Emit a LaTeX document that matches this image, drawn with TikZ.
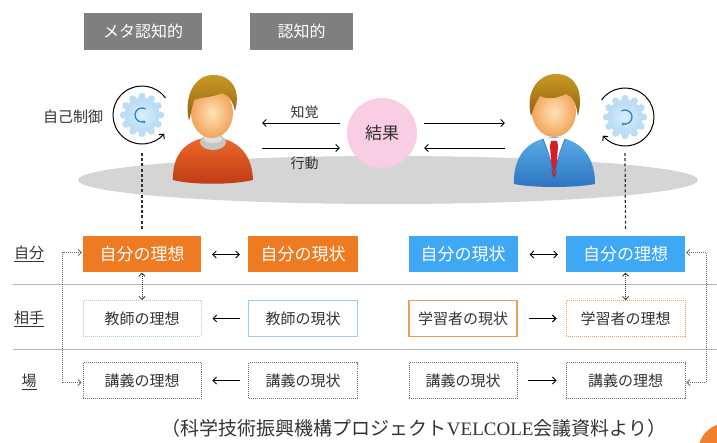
\documentclass[tikz,border=0pt]{standalone}
\usepackage{fontspec}
\setmainfont{Noto Sans CJK JP}
\newfontfamily\capserif{Liberation Serif}
\usetikzlibrary{arrows.meta}

\definecolor{hdrgray}{HTML}{7F7F7F}
\definecolor{selforange}{HTML}{EE7A22}
\definecolor{selfblue}{HTML}{3EA8F5}
\definecolor{paleblueline}{HTML}{9CCFEA}
\definecolor{paleorangeline}{HTML}{E8A060}
\definecolor{rulegray}{HTML}{B4B4B4}
\definecolor{floorgray}{HTML}{D5D5D5}
\definecolor{resultpink}{HTML}{F9CDE4}
\definecolor{cogfill}{HTML}{BCDDF6}
\definecolor{cogcore}{HTML}{DCEEFB}
\definecolor{cogarrow}{HTML}{2F86C6}
\definecolor{textdark}{HTML}{333333}
\definecolor{dotgray}{HTML}{707070}
\definecolor{skinlight}{HTML}{FFE2B8}
\definecolor{skindark}{HTML}{F2A45A}
\definecolor{hairlight}{HTML}{C99A24}
\definecolor{hairdark}{HTML}{8F6210}
\definecolor{shirtorange}{HTML}{EC6A2C}
\definecolor{shirtdeep}{HTML}{BF3A14}
\definecolor{suitblue}{HTML}{5AACE8}
\definecolor{suitdeep}{HTML}{2C74C0}
\definecolor{tiered}{HTML}{D42020}
\definecolor{badgeorange}{HTML}{F08030}

\tikzset{
  barb/.style={-{Straight Barb[length=3.5pt,width=7pt]}, line width=0.9pt, black},
  dbarb/.style={{Straight Barb[length=3.5pt,width=7pt]}-{Straight Barb[length=3.5pt,width=7pt]}, line width=0.9pt, black},
  dotlink/.style={{Straight Barb[length=3pt,width=6pt]}-{Straight Barb[length=3pt,width=6pt]},
    line width=0.8pt, dotgray, dash pattern=on 1pt off 1pt},
  dashdrop/.style={line width=1.2pt, textdark, dash pattern=on 3pt off 2.2pt},
  hdrbox/.style={fill=hdrgray, text=white, minimum height=37pt, inner sep=0pt,
    font=\fontsize{16}{16}\selectfont},
  cell/.style={minimum height=36pt, inner sep=0pt, font=\fontsize{15}{15}\selectfont, text=textdark},
  selfcell/.style={cell, text=white, font=\fontsize{17}{17}\selectfont},
  rowlabel/.style={font=\fontsize{15}{15}\selectfont, text=textdark},
  figure/.style={minimum width=96pt, minimum height=110pt, inner sep=0pt},
  cogwheel/.pic={
    \fill[cogfill] (0,0) circle[radius=17.5];
    \foreach \a in {0,30,...,330} \fill[cogfill] (\a:18.6) circle[radius=3.6];
    \shade[inner color=cogcore, outer color=cogfill] (0,0) circle[radius=15];
  }
}

\begin{document}
\begin{tikzpicture}[x=1pt, y=-1pt]
\useasboundingbox (0,0) rectangle (717,443);

% ---------- page badge (runs off the corner) ----------
\begin{scope}
  \clip (0,0) rectangle (717,443);
  \fill[badgeorange] (727,452) circle[radius=29];
\end{scope}

% ---------- header tags ----------
\node[hdrbox, minimum width=118pt] (meta) at (143,31.5) {メタ認知的};
\node[hdrbox, minimum width=103pt] (cog)  at (301.5,31.5) {認知的};

% ---------- floor ----------
\fill[floorgray] (388,180) ellipse[x radius=310, y radius=24];

% ---------- result ----------
\node[circle, fill=resultpink, minimum size=70pt, inner sep=0pt,
      font=\fontsize{17}{17}\selectfont, text=textdark] (result) at (382,133) {結果};

% ---------- left figure (learner) ----------
\node[figure] (personL) at (214,130) {};
\begin{scope}[shift={(212,113)}]
  \shade[top color=shirtorange, bottom color=shirtdeep]
    (-39,67) .. controls (-40,36) and (-20,25) .. (0,24)
    .. controls (20,25) and (40,36) .. (41,67)
    .. controls (20,72) and (-20,72) .. (-39,67) -- cycle;
  \fill[gray!45] (1,29) ellipse[x radius=13, y radius=8];
  \fill[gray!25] (1,26) ellipse[x radius=9, y radius=4];
  \shade[inner color=skinlight, outer color=skindark] (0,0) ellipse[x radius=21, y radius=25];
  \shade[top color=hairlight, bottom color=hairdark]
    (-23,8) .. controls (-29,-20) and (-15,-39) .. (2,-38)
    .. controls (20,-38) and (29,-22) .. (23,-2)
    .. controls (21,-12) and (16,-18) .. (10,-20)
    .. controls (0,-15) and (-12,-16) .. (-18,-13)
    .. controls (-20,-6) and (-21,0) .. (-23,8) -- cycle;
\end{scope}

% ---------- right figure (teacher) ----------
\node[figure] (personR) at (553,130) {};
\begin{scope}[shift={(554,112)}]
  \shade[top color=suitblue, bottom color=suitdeep]
    (-40,72) .. controls (-41,38) and (-20,26) .. (0,25)
    .. controls (20,26) and (41,38) .. (41,72)
    .. controls (20,76) and (-20,76) .. (-40,72) -- cycle;
  \fill[white] (-11,26) -- (11,26) -- (0,60) -- cycle;
  \fill[tiered] (-3,29) -- (3,29) -- (4,34) -- (2,62) -- (0,66) -- (-2,62) -- (-4,34) -- cycle;
  \draw[suitdeep, line width=0.8pt] (-11,27) -- (-6,40) -- (0,62);
  \draw[suitdeep, line width=0.8pt] (11,27) -- (6,40) -- (0,62);
  \shade[inner color=skinlight, outer color=skindark] (0,0) ellipse[x radius=22, y radius=25];
  \shade[top color=hairlight, bottom color=hairdark]
    (-23,4) .. controls (-29,-20) and (-16,-38) .. (2,-38)
    .. controls (22,-38) and (30,-20) .. (24,4)
    .. controls (22,-10) and (18,-16) .. (12,-18)
    .. controls (4,-14) and (-6,-12) .. (-14,-16)
    .. controls (-19,-8) and (-21,-2) .. (-23,4) -- cycle;
\end{scope}

% ---------- perception / action ----------
\draw[barb, shorten <=7pt] ([yshift=10pt]result.west) -- ([yshift=10pt]result.west -| personL.east)
  node[midway, yshift=11pt, font=\fontsize{14}{14}\selectfont, text=textdark] (perc) {知覚};
\draw[barb, shorten >=7pt] ([yshift=-15pt]result.west -| personL.east) -- ([yshift=-15pt]result.west)
  node[midway, yshift=-15pt, font=\fontsize{14}{14}\selectfont, text=textdark] (act) {行動};
\draw[barb, shorten <=7pt] ([yshift=10pt]result.east) -- ([yshift=10pt]result.east -| personR.west);
\draw[barb, shorten >=7pt] ([yshift=-15pt]result.east -| personR.west) -- ([yshift=-15pt]result.east);

% ---------- self-regulation cogs ----------
\coordinate (cogL) at (142,115);
\coordinate (cogR) at (625,117);
\pic at (cogL) {cogwheel};
\pic at (cogR) {cogwheel};
\draw[-{Stealth[length=3pt,width=4pt]}, cogarrow, line width=1.3pt]
  ([shift={(-60:7)}]cogL) arc[start angle=-60, end angle=-300, radius=7];
\draw[-{Stealth[length=3pt,width=4pt]}, cogarrow, line width=1.3pt]
  ([shift={(-120:7)}]cogR) arc[start angle=-120, end angle=120, radius=7];
\draw[barb, line width=1pt]
  ([shift={(-36:29)}]cogL) arc[start angle=-36, end angle=-320, radius=29];
\draw[barb, line width=1pt]
  ([shift={(-144:29)}]cogR) arc[start angle=-144, end angle=140, radius=29];
\node[rowlabel] (selfctrl) at (73,117) {自己制御};

% ---------- row rules ----------
\draw[rulegray, line width=0.8pt] (13,284) -- (717,284);
\draw[rulegray, line width=0.8pt] (13,349) -- (717,349);

% ---------- row labels ----------
\node[rowlabel] (lblself)  at (29,254) {\underline{自分}};
\node[rowlabel] (lblother) at (29,319) {\underline{相手}};
\node[rowlabel] (lblplace) at (29,382) {\underline{場}};

% ---------- row 1: self ----------
\node[selfcell, fill=selforange, minimum width=118pt] (sIdealL) at (142,254.5) {自分の理想};
\node[selfcell, fill=selforange, minimum width=110pt] (sNowL)   at (303,254.5) {自分の現状};
\node[selfcell, fill=selfblue,   minimum width=109pt] (sNowR)   at (463,254.5) {自分の現状};
\node[selfcell, fill=selfblue,   minimum width=119pt] (sIdealR) at (625.5,254.5) {自分の理想};

% ---------- row 2: counterpart ----------
\node[cell, draw=paleblueline, line width=1pt, dash pattern=on 1pt off 1pt, minimum width=118pt] (oIdealL) at (142,318.5) {教師の理想};
\node[cell, draw=paleblueline, line width=1.2pt, minimum width=109pt] (oNowL) at (303,318.5) {教師の現状};
\node[cell, draw=paleorangeline, line width=1.5pt, minimum width=108pt] (oNowR) at (463,318.5) {学習者の現状};
\node[cell, draw=paleorangeline, line width=1pt, dash pattern=on 1pt off 1pt, minimum width=119pt] (oIdealR) at (625.5,318.5) {学習者の理想};

% ---------- row 3: setting ----------
\node[cell, draw=dotgray, line width=0.9pt, dash pattern=on 1pt off 1pt, minimum width=118pt] (pIdealL) at (142,380.5) {講義の理想};
\node[cell, draw=dotgray, line width=0.9pt, dash pattern=on 1pt off 1pt, minimum width=109pt] (pNowL)   at (303,380.5) {講義の現状};
\node[cell, draw=dotgray, line width=0.9pt, dash pattern=on 1pt off 1pt, minimum width=108pt] (pNowR)   at (463,380.5) {講義の現状};
\node[cell, draw=dotgray, line width=0.9pt, dash pattern=on 1pt off 1pt, minimum width=119pt] (pIdealR) at (625.5,380.5) {講義の理想};

% ---------- horizontal relations ----------
\draw[dbarb, shorten <=11pt, shorten >=8pt] (sIdealL.east) -- (sNowL.west);
\draw[dbarb, shorten <=12pt, shorten >=8pt] (sNowR.east) -- (sIdealR.west);
\draw[barb, shorten <=8pt, shorten >=11pt] (oNowL.west) -- (oIdealL.east);
\draw[barb, shorten <=11pt, shorten >=9pt] (oNowR.east) -- (oIdealR.west);
\draw[barb, shorten <=8pt, shorten >=11pt] (pNowL.west) -- (pIdealL.east);
\draw[barb, shorten <=11pt, shorten >=9pt] (pNowR.east) -- (pIdealR.west);

% ---------- vertical links ----------
\draw[dotlink, textdark] (sIdealL.south) -- (oIdealL.north);
\draw[dotlink, textdark] (sIdealR.south) -- (oIdealR.north);
\draw[dotlink, shorten <=1pt, shorten >=1pt] ([yshift=2pt]sIdealL.west) -- ++(-20,0) |- ([yshift=-2pt]pIdealL.west);
\draw[dotlink, shorten <=1pt, shorten >=1pt] ([yshift=2pt]sIdealR.east) -- ++(21,0) |- ([yshift=-2pt]pIdealR.east);

% ---------- cogs down to the ideal self ----------
\draw[dashdrop] ([yshift=-38pt]cogL) -- ([yshift=7pt]sIdealL.north);
\draw[dashdrop] ([yshift=-36pt]cogR) -- ([yshift=7pt]sIdealR.north);

% ---------- source note ----------
\node[font=\fontsize{19}{19}\selectfont, text=textdark] (source) at (414,428)
  {（科学技術振興機構プロジェクト{\capserif VELCOLE}会議資料より）};
\end{tikzpicture}
\end{document}
